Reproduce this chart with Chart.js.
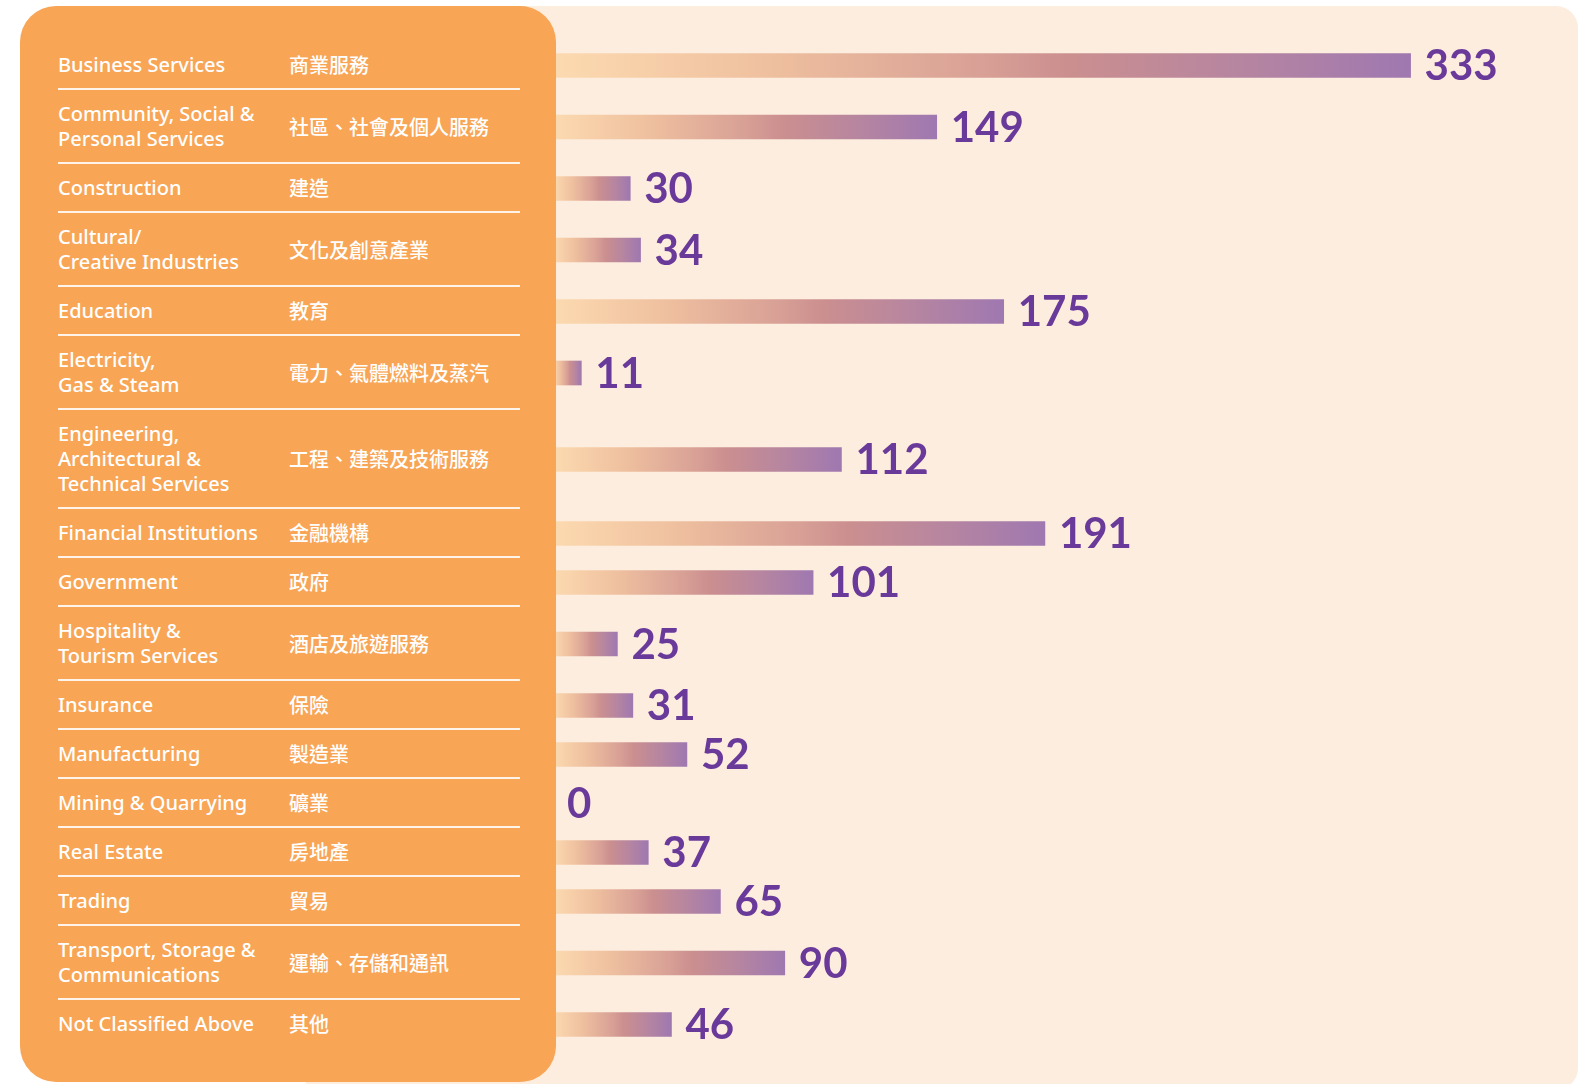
<!DOCTYPE html>
<html lang="zh-Hant">
<head>
<meta charset="UTF-8">
<title>Industry breakdown</title>
<script src="https://cdn.jsdelivr.net/npm/chart.js"></script>
<style>
  html, body { margin: 0; padding: 0; background: #fff; }
  body { width: 1578px; height: 1084px; position: relative; overflow: hidden; }
  .beige {
    position: absolute; left: 300px; top: 6px; width: 1278px; height: 1084px;
    background: #FDEDDE; border-radius: 22px;
  }
  .panel {
    position: absolute; left: 20px; top: 6px; width: 536px; height: 1076px;
    background: #F8A556; border-radius: 36px; z-index: 2;
  }
  .table { position: absolute; left: 38px; top: 35px; width: 462px; }
  .row {
    display: flex; align-items: center; padding: 11px 0;
    border-bottom: 2px solid rgba(255,255,255,0.88);
    color: #fff; line-height: 25px;
  }
  .row:last-child { border-bottom: none; }
  .en { width: 231px; font-family: "Noto Sans", sans-serif; font-size: 20px; font-weight: 500; white-space: pre; }
  .zh { flex: 1; font-family: "Noto Sans CJK TC", sans-serif; font-size: 20px; font-weight: 500; }
  .chart-box { position: absolute; left: 553px; top: 0; width: 1025px; height: 1084px; z-index: 1; }
</style>
</head>
<body>
<div class="beige"></div>
<div class="panel"><div class="table" id="table"></div></div>
<div class="chart-box"><canvas id="industryChart"></canvas></div>

<script>
// categories (English with line breaks as printed, Chinese)
const labelsEn = [
  'Business Services',
  'Community, Social &\nPersonal Services',
  'Construction',
  'Cultural/\nCreative Industries',
  'Education',
  'Electricity,\nGas & Steam',
  'Engineering,\nArchitectural &\nTechnical Services',
  'Financial Institutions',
  'Government',
  'Hospitality &\nTourism Services',
  'Insurance',
  'Manufacturing',
  'Mining & Quarrying',
  'Real Estate',
  'Trading',
  'Transport, Storage &\nCommunications',
  'Not Classified Above'
];
const labelsZh = [
  '商業服務', '社區、社會及個人服務', '建造', '文化及創意產業', '教育',
  '電力、氣體燃料及蒸汽', '工程、建築及技術服務', '金融機構', '政府',
  '酒店及旅遊服務', '保險', '製造業', '礦業', '房地產', '貿易',
  '運輸、存儲和通訊', '其他'
];
const values = [333, 149, 30, 34, 175, 11, 112, 191, 101, 25, 31, 52, 0, 37, 65, 90, 46];

// build the left table
const table = document.getElementById('table');
labelsEn.forEach((en, i) => {
  const row = document.createElement('div');
  row.className = 'row';
  row.innerHTML = '<div class="en"></div><div class="zh"></div>';
  row.children[0].textContent = en;
  row.children[1].textContent = labelsZh[i];
  table.appendChild(row);
});

// bar centres follow the table rows
const box = document.querySelector('.chart-box').getBoundingClientRect();
const rowCenters = Array.from(table.querySelectorAll('.en')).map(el => {
  const r = el.getBoundingClientRect();
  return r.top + r.height / 2 - box.top + 1;
});

function barGradient(context) {
  const chart = context.chart;
  const xs = chart.scales.x;
  if (!xs || !chart.chartArea) return '#D4968F';
  const x0 = xs.getPixelForValue(0);
  const x1 = Math.max(xs.getPixelForValue(values[context.dataIndex]), x0 + 1);
  const g = chart.ctx.createLinearGradient(x0, 0, x1, 0);
  g.addColorStop(0, '#FCDAB0');
  g.addColorStop(0.25, '#EFC09F');
  g.addColorStop(0.5, '#D8A096');
  g.addColorStop(0.6, '#CB8F8F');
  g.addColorStop(0.8, '#B685A0');
  g.addColorStop(1, '#9F78B1');
  return g;
}

const valueLabels = {
  id: 'valueLabels',
  afterDatasetsDraw(chart) {
    const ctx = chart.ctx;
    ctx.save();
    ctx.fillStyle = '#6A3A9A';
    ctx.font = 'bold 42px Lato';
    ctx.textBaseline = 'middle';
    chart.getDatasetMeta(0).data.forEach((bar, i) => {
      ctx.fillText(String(values[i]), bar.x + 14, bar.y + 1);
    });
    ctx.restore();
  }
};

new Chart(document.getElementById('industryChart'), {
  type: 'bar',
  data: {
    datasets: [{
      data: values.map((v, i) => ({ x: v, y: rowCenters[i] })),
      backgroundColor: barGradient,
      barThickness: 24,
      borderWidth: 0
    }]
  },
  options: {
    indexAxis: 'y',
    responsive: true,
    maintainAspectRatio: false,
    animation: false,
    layout: { padding: 0 },
    plugins: { legend: { display: false }, tooltip: { enabled: false } },
    scales: {
      x: { type: 'linear', min: 0, max: 398, display: false, offset: false },
      y: { type: 'linear', min: 0, max: 1084, reverse: true, display: false, offset: false }
    }
  },
  plugins: [valueLabels]
});
</script>
</body>
</html>
